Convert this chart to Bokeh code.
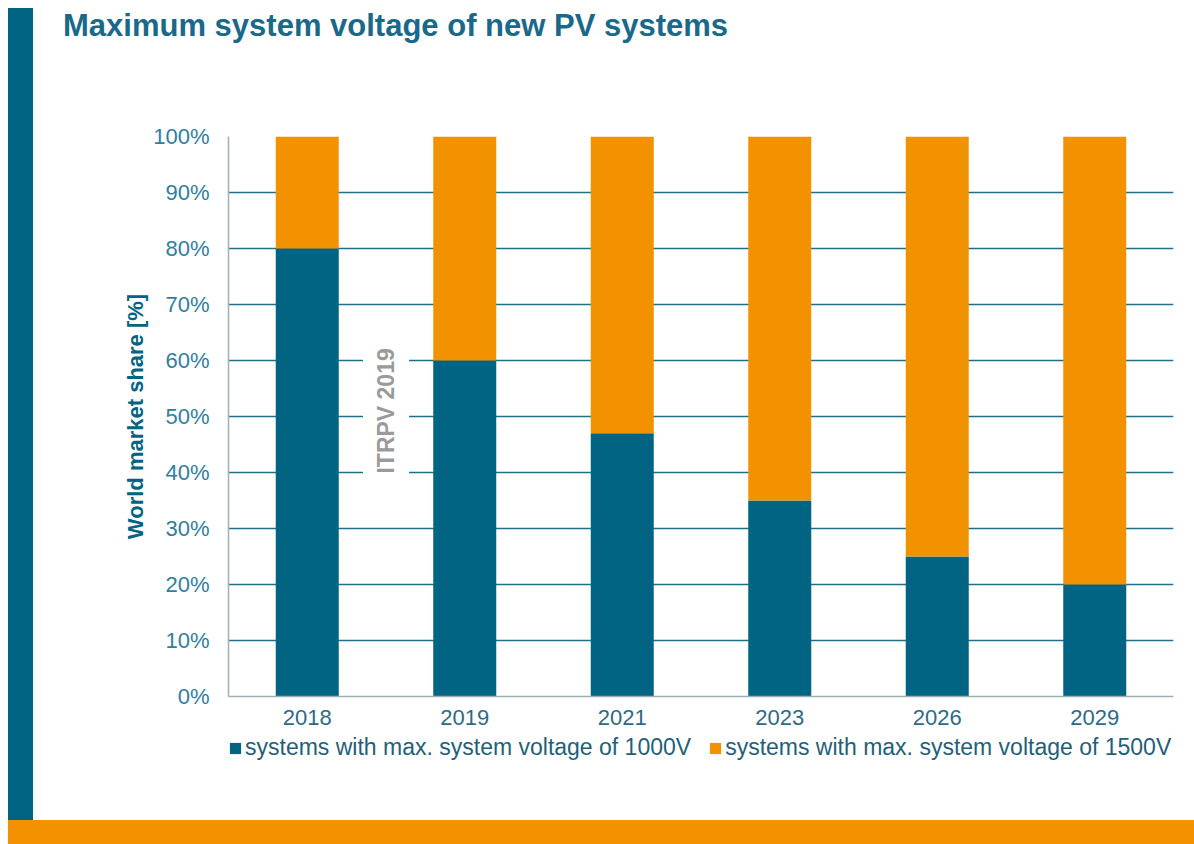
from bokeh.plotting import figure
from bokeh.models import (FactorRange, Range1d, Legend, LegendItem, Label, Div,
                          FixedTicker, ColumnDataSource, CustomJSTickFormatter)
from bokeh.layouts import column, row
from bokeh.embed import file_html
from bokeh.resources import INLINE
import math

years = ["2018", "2019", "2021", "2023", "2026", "2029"]
share_1000v = [80, 60, 47, 35, 25, 20]
share_1500v = [20, 40, 53, 65, 75, 80]
series_names = ["systems with max. system voltage of 1000V",
                "systems with max. system voltage of 1500V"]
series_colors = ["#006482", "#f39200"]
title_text = "Maximum system voltage of new PV systems"
y_label = "World market share [%]"
watermark = "ITRPV 2019"

TEAL, ORANGE = series_colors
FONT = "Liberation Sans"

src = ColumnDataSource(dict(x=years, a=share_1000v, b=share_1500v))

# main chart
p = figure(frame_width=945, frame_height=560, x_range=FactorRange(*years, range_padding=0),
           y_range=Range1d(0, 100), output_backend="svg", toolbar_location=None,
           min_border_left=195, min_border_right=21, min_border_top=72,
           min_border_bottom=34, outline_line_color=None, margin=0)

r = p.vbar_stack(["a", "b"], x="x", width=0.4, source=src, color=series_colors,
                 line_color=None)

p.yaxis.ticker = FixedTicker(ticks=list(range(0, 101, 10)))
p.yaxis.formatter = CustomJSTickFormatter(code="return tick + '%'")
for ax in (p.xaxis, p.yaxis):
    ax.major_tick_line_color = None
    ax.minor_tick_line_color = None
    ax.axis_line_color = "#9fb0b9"
    ax.axis_line_width = 1.5
    ax.major_label_text_font = FONT
    ax.major_label_text_font_size = "22px"
p.yaxis.major_label_text_color = "#2f7fa0"
p.xaxis.major_label_text_color = "#2d6a85"
p.yaxis.major_label_standoff = 13
p.xaxis.major_label_standoff = 7
p.yaxis.axis_label = y_label
p.yaxis.axis_label_text_font = FONT
p.yaxis.axis_label_text_font_style = "bold"
p.yaxis.axis_label_text_font_size = "22px"
p.yaxis.axis_label_text_color = TEAL
p.yaxis.axis_label_standoff = 2
p.xgrid.grid_line_color = None
p.ygrid.grid_line_color = "#1f6f8b"
p.ygrid.grid_line_width = 1.5

wm = Label(x=1.0, y=51, text=watermark, angle=math.pi / 2, text_align="center",
           text_baseline="middle", text_font=FONT, text_font_style="bold",
           text_font_size="23px", text_color="#9a9a9a", background_fill_color="white",
           padding=10)
p.add_layout(wm)

# legend strip (proxy renderers in the series colours, far outside the visible range)
lf = figure(width=1161, height=36, output_backend="svg", toolbar_location=None,
            x_range=Range1d(0, 1), y_range=Range1d(0, 1),
            min_border_left=0, min_border_right=0, min_border_top=0, min_border_bottom=0,
            outline_line_color=None, margin=0)
lf.axis.visible = False
lf.grid.visible = False
proxies = [lf.vbar(x=[100], bottom=[100], top=[101], width=0.4, color=c, line_color=None)
           for c in series_colors]
legend = Legend(items=[LegendItem(label=n, renderers=[pr]) for n, pr in zip(series_names, proxies)],
                orientation="horizontal", location=(0, 5), border_line_color=None,
                background_fill_alpha=0,
                label_text_font=FONT, label_text_font_size="23px", label_text_color="#1f5f7a",
                glyph_width=14, glyph_height=14, spacing=17, label_standoff=3,
                padding=0, margin=0)
lf.add_layout(legend)

title = Div(text=('<div style="font-family:\'Liberation Sans\';font-weight:bold;font-size:31px;'
                  'color:#18698a;padding-left:30px;line-height:36px;white-space:nowrap;">'
                  + title_text + '</div>'), width=1161, height=56, margin=0)
spacer = Div(text="", width=1161, height=54, margin=0)

blue = Div(text="", width=25, height=812, margin=0, styles={"background-color": TEAL})
orange = Div(text="", width=1186, height=24, margin=0, styles={"background-color": ORANGE})

layout = column(row(blue, column(title, p, lf, spacer, spacing=0), spacing=0), orange,
                spacing=0, margin=(8, 0, 0, 8))

open("out.html", "w").write(file_html(layout, INLINE))
